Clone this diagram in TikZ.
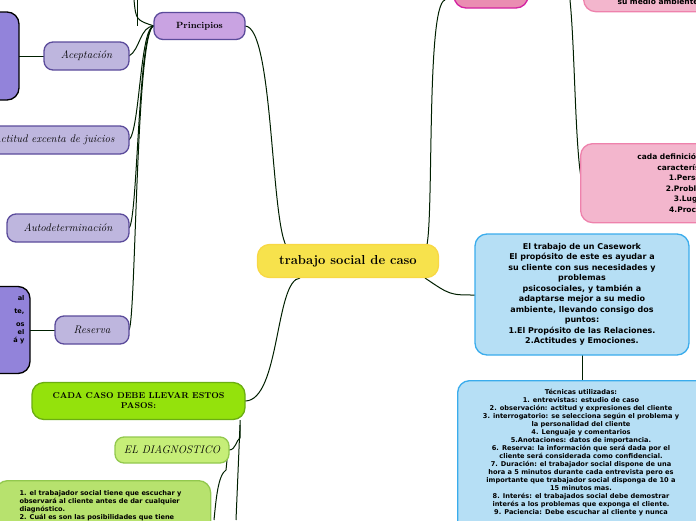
\documentclass[tikz,border=0pt]{standalone}
\usepackage{fontspec}
\newfontfamily\dvs{DejaVu Sans}
\tikzset{x=1pt,y=-1pt,
 conn/.style={draw=black!80!green!60!black,line width=1pt},
 box/.style={rounded corners=12pt,line width=1.3pt,align=center,inner sep=0pt},
 scr/.style={font=\itshape\fontsize{11}{12}\selectfont},
 sm/.style={font=\dvs\bfseries\fontsize{6.6}{8}\selectfont},
 md/.style={font=\dvs\bfseries\fontsize{8}{10.5}\selectfont}}
\definecolor{cyel}{HTML}{F7E24C}\definecolor{cpur}{HTML}{C9A3E2}\definecolor{cpurb}{HTML}{5B4B9B}
\definecolor{clav}{HTML}{BEB6DE}\definecolor{cvio}{HTML}{9283DA}\definecolor{cgr}{HTML}{94E20C}
\definecolor{cgrb}{HTML}{6BAE12}\definecolor{clg}{HTML}{C6EE78}\definecolor{clgb}{HTML}{92C84E}
\definecolor{cmg}{HTML}{B7E26E}\definecolor{cpk}{HTML}{EA8DB2}\definecolor{cpkb}{HTML}{D322A2}
\definecolor{clpk}{HTML}{F3B6CD}\definecolor{clpkb}{HTML}{EE82AC}\definecolor{cbl}{HTML}{B6DFF5}\definecolor{cblb}{HTML}{3AACEC}
\begin{document}
\begin{tikzpicture}
\useasboundingbox (0,0) rectangle (696,520);
\clip (0,0) rectangle (696,520);
% connectors
\draw[conn] (137,0) -- (137,26);
\draw[conn] (134,0) .. controls (136,20) .. (154,26);
\draw[conn] (154,26) .. controls (140,26) and (140,50) .. (129,56);
\draw[conn] (154,26) .. controls (140,26) and (140,130) .. (129,140);
\draw[conn] (154,26) .. controls (138,26) and (138,220) .. (129,228);
\draw[conn] (154,26) .. controls (136,26) and (136,320) .. (129,330);
\draw[conn] (245,26) .. controls (275,26) and (270,245) .. (290,250);
\draw[conn] (245,401) .. controls (280,401) and (275,280) .. (300,278);
\draw[conn] (425,250) .. controls (435,245) and (425,5) .. (445,0);
\draw[conn] (570,0) .. controls (575,50) and (575,150) .. (582,183);
\draw[conn] (425,278) .. controls (450,295) .. (475,295);
\draw[conn] (582,355) -- (582,380);
\draw[conn] (19,56) -- (44,56);
\draw[conn] (30,330) -- (55,330);
\draw[conn] (240,420) -- (240,438) .. controls (236,440) and (236,450) .. (229,450);
\draw[conn] (240,425) -- (236,520);
\draw[conn] (228,450) -- (226,470) .. controls (218,475) and (216,500) .. (214,520);
% nodes
\node[box,fill=cyel,draw=cyel!90!orange,minimum width=181pt,minimum height=33pt,font=\bfseries\fontsize{13}{14}\selectfont] (c) at (348,261) {trabajo social de caso};
\node[box,rounded corners=9pt,fill=cpur,draw=cpurb,minimum width=91pt,minimum height=27pt,font=\bfseries\fontsize{9}{10}\selectfont] (p) at (199.5,26) {Principios};
\node[box,rounded corners=9pt,fill=clav,draw=cpurb,minimum width=85pt,minimum height=28pt,scr] (a1) at (86.5,56) {Aceptación};
\node[box,rounded corners=9pt,fill=clav,draw=cpurb,minimum width=150pt,minimum height=28pt,scr] (a2) at (54,140) {Actitud excenta de juicios};
\node[box,rounded corners=9pt,fill=clav,draw=cpurb,minimum width=122pt,minimum height=28pt,scr] (a3) at (68,228) {Autodeterminación};
\node[box,rounded corners=9pt,fill=clav,draw=cpurb,minimum width=74pt,minimum height=28pt,scr] (a4) at (92,330) {Reserva};
\node[box,fill=cvio,draw=black,minimum width=60pt,minimum height=88pt] (v1) at (-11,56) {};
\node[box,fill=cvio,draw=black,minimum width=70pt,minimum height=87pt] (v2) at (-5,330) {};
\node[sm,align=right,anchor=north east] at (28,292) {al\\[5pt]te,\\[5pt]os\\el\\á y};
\node[box,fill=cgr,draw=cgrb,minimum width=213pt,minimum height=37pt,font=\bfseries\fontsize{8.5}{10}\selectfont] (g) at (138.5,401) {CADA CASO DEBE LLEVAR ESTOS\\PASOS:};
\node[box,rounded corners=9pt,fill=clg,draw=clgb,minimum width=114pt,minimum height=26pt,scr] (d) at (172,450) {EL DIAGNOSTICO};
\node[box,fill=cmg,draw=clgb,minimum width=215pt,minimum height=70pt,anchor=north west] (d2) at (-5,480) {};
\node[sm,align=left,anchor=north west] at (16,487) {1. el trabajador social tiene que escuchar y\\observará al cliente antes de dar cualquier\\diagnóstico.\\2. Cuál es son las posibilidades que tiene};
\node[box,fill=cpk,draw=cpkb,minimum width=74pt,minimum height=30pt] (pk1) at (491,-7) {};
\node[box,fill=clpk,draw=clpkb,minimum width=160pt,minimum height=40pt,anchor=north west] (pk2) at (583,-29) {};
\node[sm,font=\dvs\bfseries\fontsize{7.5}{9}\selectfont] at (658,2) {su medio ambiente};
\node[box,fill=clpk,draw=clpkb,minimum width=160pt,minimum height=79pt,anchor=north west] (pk3) at (580,143) {};
\node[md,font=\dvs\bfseries\fontsize{7.5}{10.5}\selectfont,align=center] at (690,183) {cada definición tiene sus\\características:\\1.Persona\\2.Problema\\3.Lugar\\4.Proceso};
\node[box,fill=cbl,draw=cblb,minimum width=214pt,minimum height=121pt,md] (b1) at (582,294.5) {El trabajo de un Casework\\El propósito de este es ayudar a\\su cliente con sus necesidades y\\problemas\\psicosociales, y también a\\adaptarse mejor a su medio\\ambiente, llevando consigo dos\\puntos:\\1.El Propósito de las Relaciones.\\2.Actitudes y Emociones.};
\node[box,fill=cbl,draw=cblb,minimum width=250pt,minimum height=160pt,anchor=north west] (b2) at (457,380) {};
\node[sm,align=center,anchor=north] at (581,386) {Técnicas utilizadas:\\1. entrevistas: estudio de caso\\2. observación: actitud y expresiones del cliente\\3. interrogatorio: se selecciona según el problema y\\la personalidad del cliente\\4. Lenguaje y comentarios\\5.Anotaciones: datos de importancia.\\6. Reserva: la información que será dada por el\\cliente será considerada como confidencial.\\7. Duración:  el trabajador social dispone de una\\hora a 5 minutos durante cada entrevista pero es\\importante que trabajador social disponga de 10 a\\15 minutos mas.\\8. Interés: el trabajados social debe demostrar\\interés a los problemas que exponga el cliente.\\9. Paciencia: Debe escuchar al cliente y nunca};
\end{tikzpicture}
\end{document}
